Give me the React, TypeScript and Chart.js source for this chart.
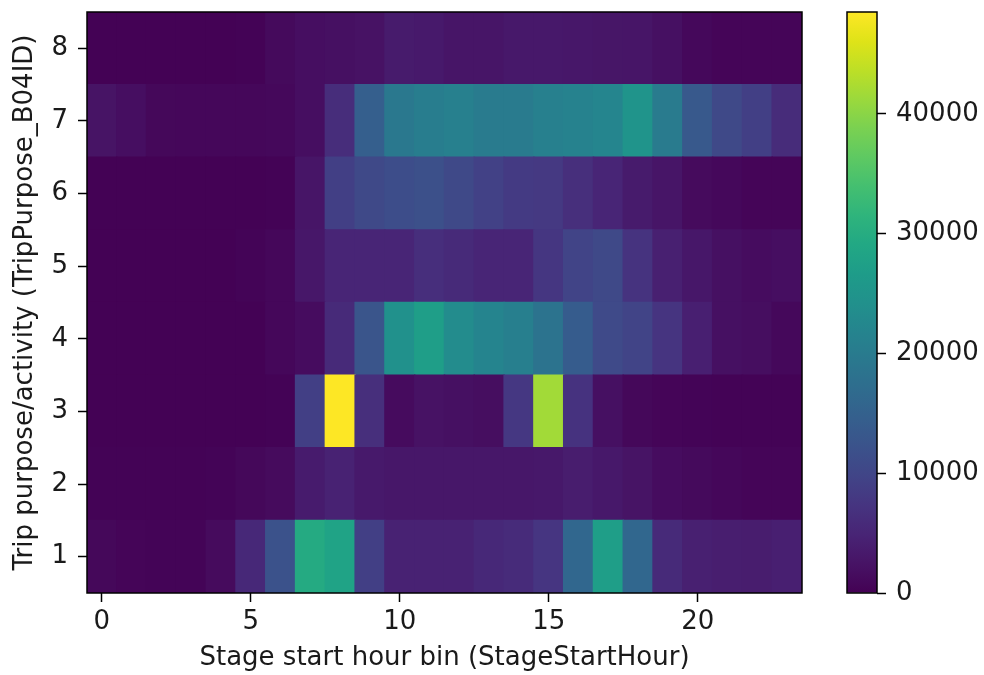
import React, { useEffect, useRef } from "react";
import { Chart, registerables } from "chart.js";

Chart.register(...registerables);

// ---- data ----
const hours = [0, 1, 2, 3, 4, 5, 6, 7, 8, 9, 10, 11, 12, 13, 14, 15, 16, 17, 18, 19, 20, 21, 22, 23];
const purposes = [1, 2, 3, 4, 5, 6, 7, 8];

const purpose1 = [900, 500, 400, 400, 1300, 5500, 12100, 29600, 28000, 9000, 4500, 4500, 4600, 5500, 5900, 7500, 16000, 27000, 16000, 5700, 4300, 4000, 3800, 4200];
const purpose2 = [300, 300, 300, 300, 400, 900, 1300, 3600, 4600, 3300, 3000, 3000, 3000, 3000, 3000, 3200, 3800, 3200, 2500, 1500, 1200, 800, 500, 500];
const purpose3 = [200, 200, 200, 200, 200, 200, 300, 9000, 48500, 6500, 1400, 2300, 2000, 1700, 7800, 41700, 7000, 2000, 900, 500, 400, 300, 300, 300];
const purpose4 = [200, 200, 200, 200, 200, 200, 800, 1500, 5700, 12700, 24200, 27000, 23300, 21800, 20800, 18400, 14000, 10700, 9700, 7200, 4200, 2000, 1700, 1000];
const purpose5 = [200, 200, 200, 200, 200, 400, 800, 3000, 5000, 5000, 5000, 6300, 5800, 5000, 5000, 7600, 9700, 10600, 7100, 4300, 3000, 2000, 1500, 1800];
const purpose6 = [200, 200, 200, 200, 200, 200, 300, 2700, 9000, 10600, 11300, 11800, 10500, 9300, 8200, 8000, 6500, 5000, 3500, 2700, 1300, 1000, 500, 500];
const purpose7 = [2500, 1800, 900, 800, 800, 800, 1000, 1800, 6200, 14500, 19500, 20500, 21000, 20000, 20000, 21000, 21500, 22000, 25000, 20000, 13500, 10500, 9000, 6000];
const purpose8 = [200, 200, 200, 200, 200, 300, 1200, 1800, 2000, 2300, 3500, 3300, 2700, 2700, 3200, 3200, 3000, 2800, 2700, 2000, 1000, 600, 600, 600];

const rows = [purpose1, purpose2, purpose3, purpose4, purpose5, purpose6, purpose7, purpose8];

const xTicks = [0, 5, 10, 15, 20];
const yTicks = [1, 2, 3, 4, 5, 6, 7, 8];
const cbTicks = [0, 10000, 20000, 30000, 40000];

const xTitle = "Stage start hour bin (StageStartHour)";
const yTitle = "Trip purpose/activity (TripPurpose_B04ID)";

const VMAX = Math.max(...rows.map((r) => Math.max(...r)));

// ---- viridis colormap ----
const VIRIDIS = [
  "#440154", "#471365", "#482475", "#463480", "#414487", "#3b528b", "#355f8d",
  "#2f6c8e", "#2a788e", "#25848e", "#21918c", "#1e9c89", "#22a884", "#2fb47c",
  "#44bf70", "#5ec962", "#7ad151", "#9bd93c", "#bddf26", "#dfe318", "#fde725",
];
function hexToRgb(h: string) {
  return [parseInt(h.slice(1, 3), 16), parseInt(h.slice(3, 5), 16), parseInt(h.slice(5, 7), 16)];
}
function viridis(t: number) {
  const c = Math.max(0, Math.min(1, t));
  const pos = c * (VIRIDIS.length - 1);
  const i = Math.min(Math.floor(pos), VIRIDIS.length - 2);
  const f = pos - i;
  const a = hexToRgb(VIRIDIS[i]);
  const b = hexToRgb(VIRIDIS[i + 1]);
  const m = a.map((v, k) => Math.round(v + (b[k] - v) * f));
  return `rgb(${m[0]},${m[1]},${m[2]})`;
}

const FONT = { family: "'DejaVu Sans', sans-serif", size: 26 };
const TXT = "#1a1a1a";

const frame = {
  id: "frame",
  afterDraw(chart: any) {
    const { ctx, chartArea: a } = chart;
    ctx.save();
    ctx.strokeStyle = "#000";
    ctx.lineWidth = 1.5;
    ctx.strokeRect(a.left, a.top, a.right - a.left, a.bottom - a.top);
    ctx.restore();
  },
};

export default function App() {
  const mainRef = useRef<HTMLCanvasElement>(null);
  const cbRef = useRef<HTMLCanvasElement>(null);

  useEffect(() => {
    const datasets = purposes.map((p, r) => ({
      label: String(p),
      data: hours.map((h) => ({ x: h, y: [p - 0.5, p + 0.5] })),
      backgroundColor: rows[r].map((v) => viridis(v / VMAX)),
      borderWidth: 0,
      inflateAmount: 0.7,
      barPercentage: 1,
      categoryPercentage: 1,
      grouped: false,
    }));

    const main = new Chart(mainRef.current!, {
      type: "bar",
      data: { datasets: datasets as any },
      plugins: [frame],
      options: {
        responsive: false,
        animation: false,
        layout: { padding: { left: 0, right: 28, top: 12, bottom: 0 } },
        plugins: { legend: { display: false }, tooltip: { enabled: false } },
        scales: {
          x: {
            type: "linear",
            min: -0.5,
            max: 23.5,
            offset: false,
            afterBuildTicks: (s: any) => {
              s.ticks = xTicks.map((v) => ({ value: v }));
            },
            afterFit: (s: any) => {
              s.height = 82;
              s.paddingLeft = 0;
              s.paddingRight = 0;
            },
            ticks: { font: FONT, color: TXT, padding: 5, autoSkip: false, maxRotation: 0 },
            grid: { offset: false, drawOnChartArea: false, drawTicks: true, tickLength: 9, tickWidth: 1.5, tickColor: "#000" },
            border: { display: false },
            title: { display: true, text: xTitle, font: FONT, color: TXT, padding: { top: 0, bottom: 1 } },
          },
          y: {
            type: "linear",
            min: 0.5,
            max: 8.5,
            afterBuildTicks: (s: any) => {
              s.ticks = yTicks.map((v) => ({ value: v }));
            },
            afterFit: (s: any) => {
              s.width = 87;
              s.paddingTop = 0;
              s.paddingBottom = 0;
            },
            ticks: { font: FONT, color: TXT, padding: 10, autoSkip: false },
            grid: { drawOnChartArea: false, drawTicks: true, tickLength: 9, tickWidth: 1.5, tickColor: "#000" },
            border: { display: false },
            title: { display: true, text: yTitle, font: FONT, color: TXT, padding: { top: 10, bottom: 0 } },
          },
        },
      } as any,
    });

    const cb = new Chart(cbRef.current!, {
      type: "bar",
      data: {
        labels: [""],
        datasets: [
          {
            data: [[0, VMAX]] as any,
            borderWidth: 0,
            barPercentage: 1,
            categoryPercentage: 1,
            backgroundColor: (ctx: any) => {
              const a = ctx.chart.chartArea;
              if (!a) return VIRIDIS[0];
              const g = ctx.chart.ctx.createLinearGradient(0, a.bottom, 0, a.top);
              VIRIDIS.forEach((c, i) => g.addColorStop(i / (VIRIDIS.length - 1), c));
              return g;
            },
          },
        ],
      },
      plugins: [frame],
      options: {
        responsive: false,
        animation: false,
        layout: { padding: { left: 17, right: 0, top: 12, bottom: 82 } },
        plugins: { legend: { display: false }, tooltip: { enabled: false } },
        scales: {
          x: { display: false },
          y: {
            position: "right",
            min: 0,
            max: VMAX,
            afterBuildTicks: (s: any) => {
              s.ticks = cbTicks.map((v) => ({ value: v }));
            },
            afterFit: (s: any) => {
              s.width = 107;
              s.paddingTop = 0;
              s.paddingBottom = 0;
            },
            ticks: { font: FONT, color: TXT, padding: 10, autoSkip: false, callback: (v: any) => String(v) },
            grid: { drawOnChartArea: false, drawTicks: true, tickLength: 9, tickWidth: 1.5, tickColor: "#000" },
            border: { display: false },
          },
        },
      } as any,
    });

    return () => {
      main.destroy();
      cb.destroy();
    };
  }, []);

  return (
    <div style={{ position: "absolute", left: 0, top: 0, width: 984, height: 675, background: "#fff" }}>
      <canvas ref={mainRef} width={830} height={675} style={{ position: "absolute", left: 0, top: 0 }} />
      <canvas ref={cbRef} width={154} height={675} style={{ position: "absolute", left: 830, top: 0 }} />
    </div>
  );
}
